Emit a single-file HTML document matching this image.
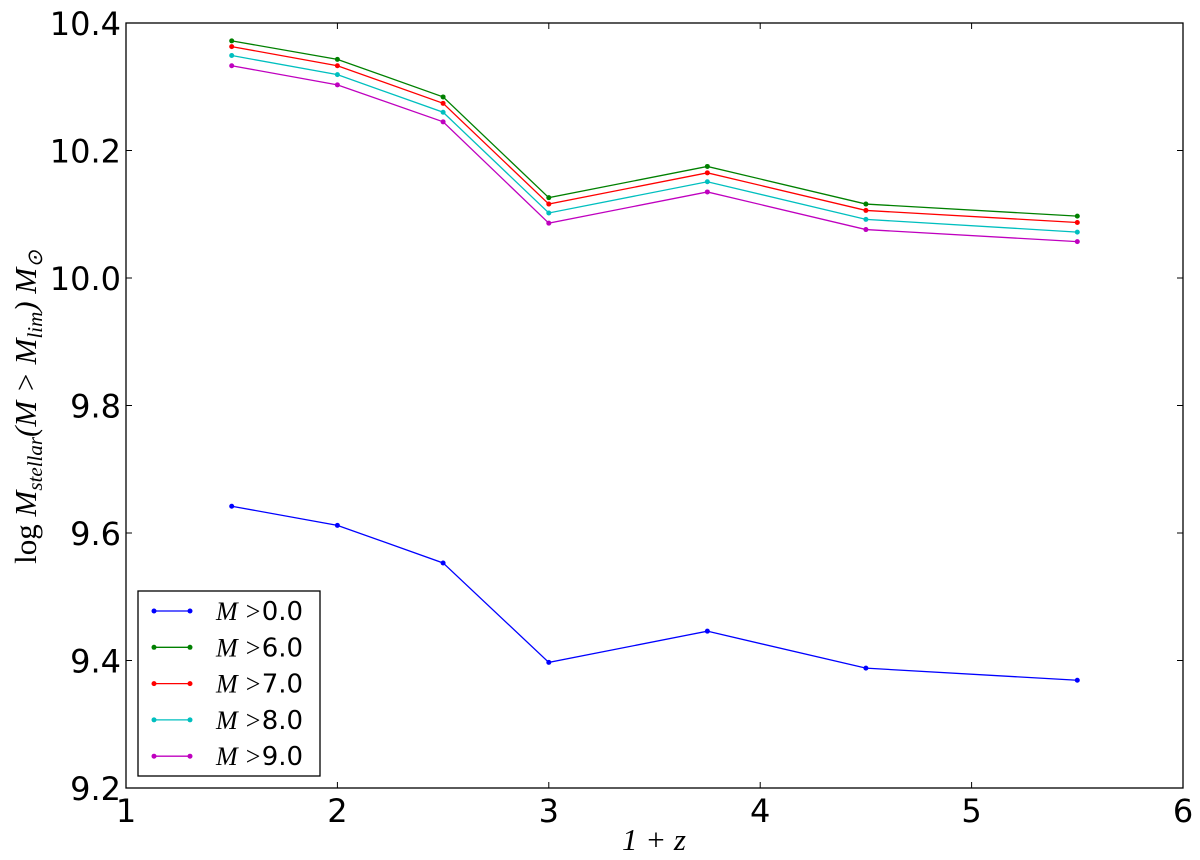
<!DOCTYPE html>
<html><head><meta charset="utf-8"><style>
body{margin:0;background:#fff;}
</style></head><body>
<svg id="chart" width="1200" height="855" xmlns="http://www.w3.org/2000/svg" style="font-family:'DejaVu Sans','Liberation Sans',sans-serif">
<g id="plot"></g>
<rect x="126" y="23" width="1057" height="765" fill="none" stroke="#000" stroke-width="1.3"/>
<g id="ticks"></g>
<text x="654" y="850" style="font-family:'Liberation Serif',serif;font-size:31px;font-style:italic" text-anchor="middle">1 + z</text>
<text transform="translate(36,407) rotate(-90)" style="font-family:'Liberation Serif',serif;font-size:31px" text-anchor="middle">log <tspan style="font-style:italic">M<tspan style="font-size:21px" dy="6">stellar</tspan><tspan dy="-6">(M &gt; M</tspan><tspan style="font-size:21px" dy="6">lim</tspan><tspan dy="-6">) M</tspan><tspan style="font-size:21px" dy="6">⊙</tspan></tspan></text>
<g id="legend">
<rect x="138" y="591" width="182" height="185" fill="#fff" stroke="#000" stroke-width="1.3"/>
</g>
</svg>
<script>
const xs=[1.5,2,2.5,3,3.75,4.5,5.5];
const labels=["M >0.0","M >6.0","M >7.0","M >8.0","M >9.0"];
const colors=["#0000ff","#008000","#ff0000","#00bfbf","#bf00bf"];
const sBlue=[9.642,9.612,9.553,9.397,9.446,9.388,9.369];
const sGreen=[10.372,10.343,10.284,10.126,10.175,10.116,10.097];
const sRed=[10.363,10.333,10.274,10.116,10.165,10.106,10.087];
const sCyan=[10.349,10.319,10.26,10.102,10.151,10.092,10.072];
const sMag=[10.333,10.303,10.245,10.086,10.135,10.076,10.057];
const xTicks=[1,2,3,4,5,6];
const yTicks=[9.2,9.4,9.6,9.8,10.0,10.2,10.4];
const NS="http://www.w3.org/2000/svg";
const X=v=>126+(v-1)*1057/5;
const Y=v=>788-(v-9.2)*765/1.2;
function mk(t,a,p){const e=document.createElementNS(NS,t);for(const k in a)e.setAttribute(k,a[k]);p.appendChild(e);return e;}
const plot=document.getElementById('plot'),ticks=document.getElementById('ticks'),leg=document.getElementById('legend');
const series=[sBlue,sGreen,sRed,sCyan,sMag];
series.forEach((s,i)=>{
 const g=mk('g',{},plot);
 
 
 const pl=mk('polyline',{points:s.map((v,j)=>X(xs[j])+','+Y(v)).join(' '),fill:'none',stroke:colors[i],'stroke-width':1.3},g);
 
 
 s.forEach((v,j)=>{const c=mk('circle',{cx:X(xs[j]),cy:Y(v),r:2.5,fill:colors[i]},g);
  
  });
 const ly=611+i*36.3;
 const ll=mk('line',{x1:154,x2:190,y1:ly,y2:ly,stroke:colors[i],'stroke-width':1.3},leg);
 
 
 [154,190].forEach(cx=>{const c=mk('circle',{cx:cx,cy:ly,r:2.5,fill:colors[i]},leg);
  
  });
 const t=mk('text',{x:216,y:ly+9,style:'font-size:26px'},leg);
 
 
 const ts=mk('tspan',{style:"font-family:'Liberation Serif',serif;font-style:italic"},t);ts.textContent='M >';
 const t2=mk('tspan',{},t);t2.textContent=labels[i].split('>')[1];
});
xTicks.forEach(v=>{
 mk('line',{x1:X(v),x2:X(v),y1:788,y2:782,stroke:'#000'},ticks);
 mk('line',{x1:X(v),x2:X(v),y1:23,y2:29,stroke:'#000'},ticks);
 const t=mk('text',{x:X(v),y:822,style:'font-size:32px','text-anchor':'middle'},ticks);
 
 
 t.textContent=v;
});
yTicks.forEach(v=>{
 mk('line',{x1:126,x2:132,y1:Y(v),y2:Y(v),stroke:'#000'},ticks);
 mk('line',{x1:1183,x2:1177,y1:Y(v),y2:Y(v),stroke:'#000'},ticks);
 const t=mk('text',{x:121,y:Y(v)+12,style:'font-size:32px','text-anchor':'end'},ticks);
 
 
 t.textContent=v.toFixed(1);
});
</script>
</body></html>
